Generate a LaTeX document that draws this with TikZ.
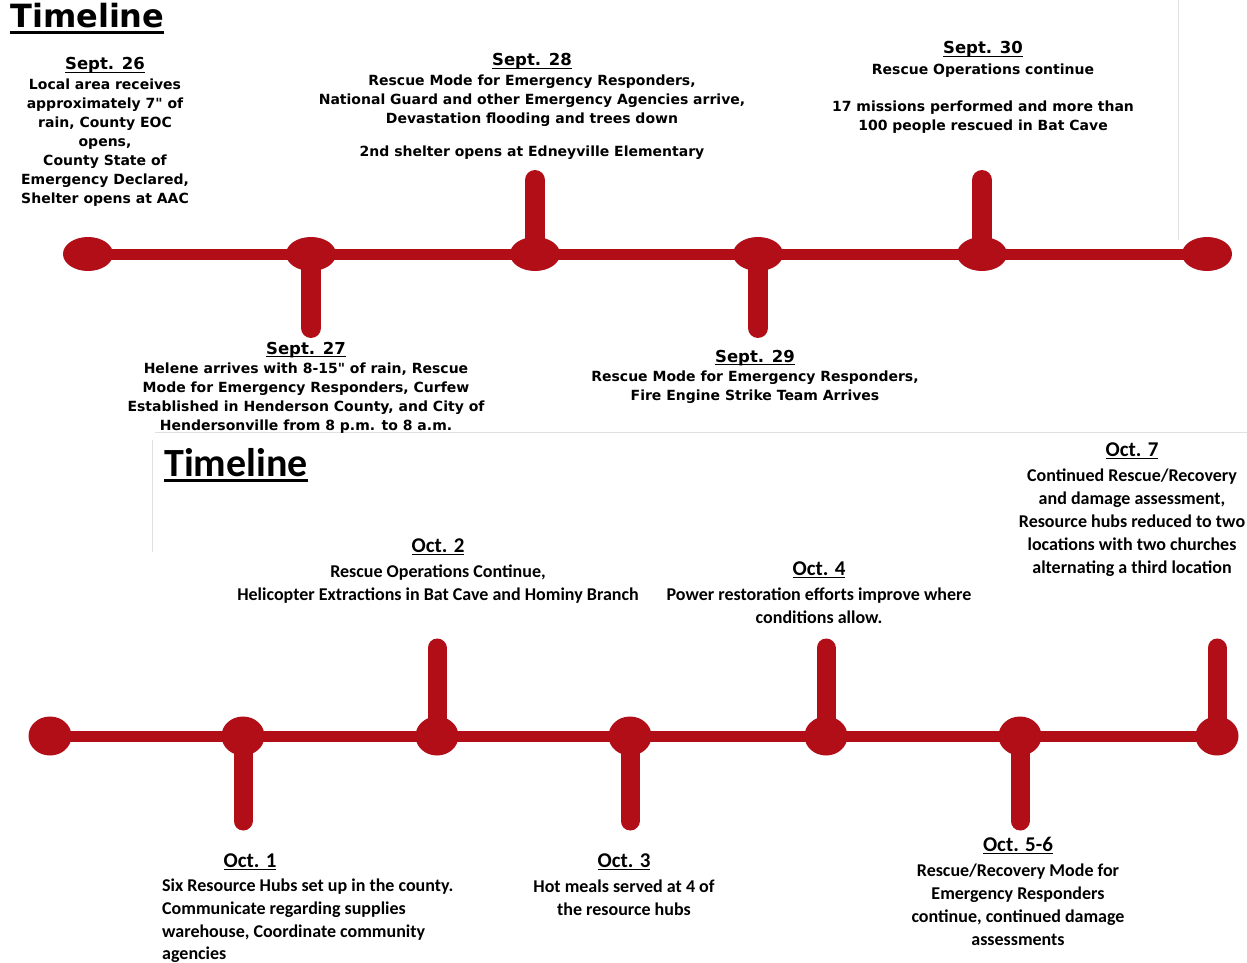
\documentclass[tikz,border=0pt]{standalone}
\usepackage{fontspec}
\setmainfont{DejaVu Sans}[Ligatures=TeXOff]
\newfontfamily\calib{Carlito}
\usetikzlibrary{shapes.geometric}
\definecolor{tlred}{RGB}{178,14,24}
\newcommand\myul[3]{\vtop{\hbox{\raisebox{0pt}[\height][0pt]{#3}}\kern#1\hrule height #2}}
\tikzset{
  dotA/.style={ellipse, fill=tlred, inner sep=0pt, minimum width=50pt, minimum height=34pt},
  dotB/.style={ellipse, fill=tlred, inner sep=0pt, minimum width=43pt, minimum height=39pt},
  barA/.style={tlred, line width=11pt},
  stemA/.style={tlred, line width=20pt, line cap=round},
  stemB/.style={tlred, line width=19pt, line cap=round},
  tophead/.style={font=\bfseries\fontsize{16.5}{19}\selectfont, inner sep=0pt, anchor=base},
  topbody/.style={font=\bfseries\fontsize{14}{19}\selectfont, align=center, inner sep=0pt, anchor=north},
  bothead/.style={font=\calib\bfseries\fontsize{21}{23}\selectfont, inner sep=0pt, anchor=base},
  botbody/.style={font=\calib\bfseries\fontsize{18}{23}\selectfont, align=center, inner sep=0pt, anchor=north},
  faint/.style={draw=black!12, line width=0.8pt}
}
\begin{document}
\begin{tikzpicture}[x=1pt,y=-1pt]
\useasboundingbox[fill=white] (0,0) rectangle (1247,963);
% faint panel edges
\draw[faint] (1178,0) -- (1178,240);
\draw[faint] (155,432) -- (1247,432);
\draw[faint] (152,440) -- (152,552);
% titles
\node[font=\bfseries\fontsize{32}{34}\selectfont, inner sep=0pt, anchor=base west] (title1) at (10,28) {\myul{3pt}{2.6pt}{Timeline}};
\node[font=\calib\bfseries\fontsize{40}{42}\selectfont, inner sep=0pt, anchor=base west] (title2) at (164,476) {\myul{3pt}{2.6pt}{Timeline}};
% ===== top timeline =====
\node[dotA] (a0) at (88,254) {};
\node[dotA] (a1) at (311,254) {};
\node[dotA] (a2) at (535,254) {};
\node[dotA] (a3) at (758,254) {};
\node[dotA] (a4) at (982,254) {};
\node[dotA] (a5) at (1207,254) {};
\draw[barA] (a0.center) -- (a1.center) -- (a2.center) -- (a3.center) -- (a4.center) -- (a5.center);
\coordinate (s1) at (311,328);
\coordinate (s2) at (535,180);
\coordinate (s3) at (758,328);
\coordinate (s4) at (982,180);
\draw[stemA] (a1.center) -- (s1);
\draw[stemA] (a2.center) -- (s2);
\draw[stemA] (a3.center) -- (s3);
\draw[stemA] (a4.center) -- (s4);
% top labels
\node[tophead] (h26) at (105,70) {\myul{2pt}{1.3pt}{Sept. 26}};
\node[topbody] (b26) at (105,79) {Local area receives\\approximately 7" of\\rain, County EOC\\opens,\\County State of\\Emergency Declared,\\Shelter opens at AAC};
\node[tophead] (h28) at (532,66) {\myul{2pt}{1.3pt}{Sept. 28}};
\node[topbody] (b28) at (532,75) {Rescue Mode for Emergency Responders,\\National Guard and other Emergency Agencies arrive,\\Devastation flooding and trees down\\[14pt]2nd shelter opens at Edneyville Elementary};
\node[tophead] (h30) at (983,54) {\myul{2pt}{1.3pt}{Sept. 30}};
\node[topbody] (b30) at (983,64) {Rescue Operations continue\\[18pt]17 missions performed and more than\\100 people rescued in Bat Cave};
\node[tophead] (h27) at (306,354) {\myul{2pt}{1.3pt}{Sept. 27}};
\node[topbody] (b27) at (306,363) {Helene arrives with 8-15" of rain, Rescue\\Mode for Emergency Responders, Curfew\\Established in Henderson County, and City of\\Hendersonville from 8 p.m. to 8 a.m.};
\node[tophead] (h29) at (755,362) {\myul{2pt}{1.3pt}{Sept. 29}};
\node[topbody] (b29) at (755,371) {Rescue Mode for Emergency Responders,\\Fire Engine Strike Team Arrives};
% ===== bottom timeline =====
\node[dotB] (c0) at (50,736) {};
\node[dotB] (c1) at (243,736) {};
\node[dotB] (c2) at (437,736) {};
\node[dotB] (c3) at (630,736) {};
\node[dotB] (c4) at (826,736) {};
\node[dotB] (c5) at (1020,736) {};
\node[dotB] (c6) at (1217,736) {};
\draw[barA] (c0.center) -- (c1.center) -- (c2.center) -- (c3.center) -- (c4.center) -- (c5.center) -- (c6.center);
\coordinate (u1) at (243,821);
\coordinate (u2) at (437,648);
\coordinate (u3) at (630,821);
\coordinate (u4) at (826,648);
\coordinate (u5) at (1020,821);
\coordinate (u6) at (1217,648);
\draw[stemB] (c1.center) -- (u1);
\draw[stemB] (c2.center) -- (u2);
\draw[stemB] (c3.center) -- (u3);
\draw[stemB] (c4.center) -- (u4);
\draw[stemB] (c5.center) -- (u5);
\draw[stemB] (c6.center) -- (u6);
% bottom labels
\node[bothead] (h7) at (1132,456) {\myul{2pt}{1.3pt}{Oct. 7}};
\node[botbody] (b7) at (1132,469) {Continued Rescue/Recovery\\and damage assessment,\\Resource hubs reduced to two\\locations with two churches\\alternating a third location};
\node[bothead] (h2) at (438,552) {\myul{2pt}{1.3pt}{Oct. 2}};
\node[botbody] (b2) at (438,565) {Rescue Operations Continue,\\Helicopter Extractions in Bat Cave and Hominy Branch};
\node[bothead] (h4) at (819,575) {\myul{2pt}{1.3pt}{Oct. 4}};
\node[botbody] (b4) at (819,588) {Power restoration efforts improve where\\conditions allow.};
\node[bothead] (h1) at (250,867) {\myul{2pt}{1.3pt}{Oct. 1}};
\node[botbody, align=left, anchor=north west, font=\calib\bfseries\fontsize{18}{22.6}\selectfont] (b1) at (162,879) {Six Resource Hubs set up in the county.\\Communicate regarding supplies\\warehouse, Coordinate community\\agencies};
\node[bothead] (h3) at (624,867) {\myul{2pt}{1.3pt}{Oct. 3}};
\node[botbody] (b3) at (624,880) {Hot meals served at 4 of\\the resource hubs};
\node[bothead] (h56) at (1018,851) {\myul{2pt}{1.3pt}{Oct. 5-6}};
\node[botbody] (b56) at (1018,864) {Rescue/Recovery Mode for\\Emergency Responders\\continue, continued damage\\assessments};
\end{tikzpicture}
\end{document}
